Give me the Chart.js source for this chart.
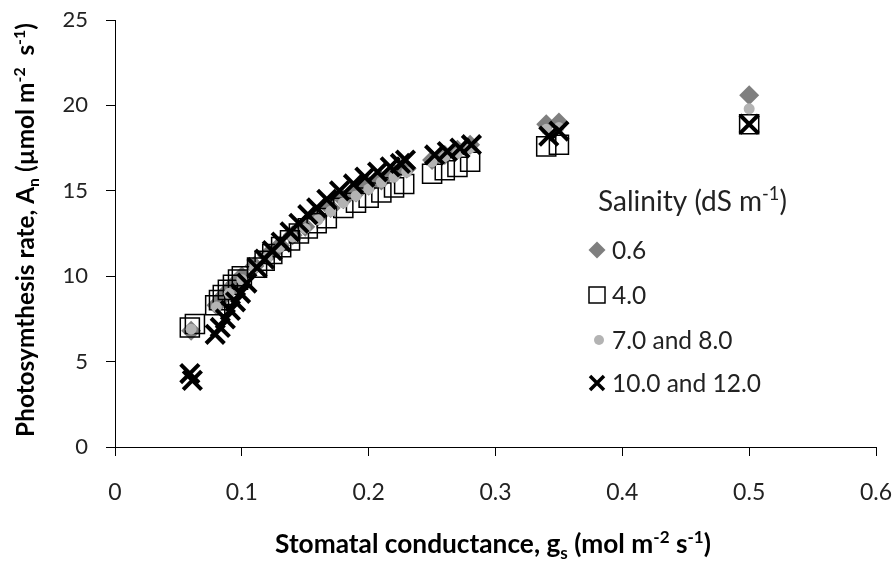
<!DOCTYPE html>
<html><head><meta charset="utf-8">
<script src="https://cdn.jsdelivr.net/npm/chart.js@4"></script>
<style>html,body{margin:0;padding:0;background:#fff}#wrap{width:895px;height:564px}</style>
</head><body><div id="wrap"><canvas id="c" width="895" height="564"></canvas></div>
<script>
const seriesLabels = ['0.6', '4.0', '7.0 and 8.0', '10.0 and 12.0'];
const xTickValues = [0, 0.1, 0.2, 0.3, 0.4, 0.5, 0.6];
const yTickValues = [0, 5, 10, 15, 20, 25];

// [gs, An] pairs
const sal06 = [[0.06,6.8],[0.08,8.3],[0.085,8.8],[0.09,9.2],[0.095,9.6],[0.1,10.0],[0.11,10.6],[0.12,11.2],[0.13,11.8],[0.14,12.4],[0.15,12.9],[0.16,13.5],[0.17,14.0],[0.18,14.5],[0.19,14.9],[0.2,15.3],[0.21,15.6],[0.22,16.0],[0.23,16.3],[0.25,16.8],[0.26,17.1],[0.27,17.4],[0.28,17.7],[0.34,18.9],[0.35,19.0],[0.5,20.6]];
const sal40 = [[0.059,7.0],[0.063,7.2],[0.079,8.3],[0.082,8.6],[0.085,8.9],[0.089,9.2],[0.093,9.5],[0.097,9.8],[0.1,10.0],[0.112,10.5],[0.118,10.9],[0.124,11.3],[0.131,11.7],[0.138,12.1],[0.145,12.5],[0.152,12.8],[0.159,13.1],[0.167,13.4],[0.18,14.0],[0.19,14.3],[0.2,14.6],[0.21,14.9],[0.22,15.2],[0.228,15.4],[0.25,16.0],[0.26,16.2],[0.27,16.4],[0.28,16.7],[0.34,17.6],[0.35,17.7],[0.5,18.9]];
const sal78 = [[0.06,6.9],[0.08,8.2],[0.09,9.0],[0.1,9.8],[0.11,10.5],[0.12,11.1],[0.13,11.7],[0.14,12.3],[0.15,12.8],[0.16,13.3],[0.17,13.8],[0.18,14.3],[0.19,14.7],[0.2,15.1],[0.21,15.5],[0.22,15.8],[0.23,16.1],[0.25,16.7],[0.26,17.0],[0.27,17.2],[0.28,17.5],[0.34,18.6],[0.35,18.7],[0.5,19.8]];
const sal1012 = [[0.059,4.3],[0.061,3.9],[0.079,6.6],[0.083,7.0],[0.087,7.5],[0.091,8.0],[0.095,8.5],[0.099,9.0],[0.104,9.6],[0.112,10.5],[0.118,11.0],[0.124,11.5],[0.131,12.0],[0.138,12.6],[0.145,13.1],[0.152,13.6],[0.159,14.0],[0.167,14.5],[0.177,15.0],[0.188,15.4],[0.197,15.8],[0.207,16.1],[0.217,16.4],[0.225,16.6],[0.229,16.8],[0.252,17.1],[0.262,17.3],[0.272,17.5],[0.281,17.7],[0.342,18.2],[0.35,18.5],[0.5,18.9]];

const toXY = arr => arr.map(p => ({x: p[0], y: p[1]}));
const FONT = 'Lato, "Open Sans", sans-serif';

function richWidth(ctx, segs, size, weight) {
  let total = 0;
  segs.forEach(s => {
    const fs = (s.sub || s.sup) ? size * 0.65 : size;
    ctx.font = weight + ' ' + fs + 'px ' + FONT;
    total += ctx.measureText(s.t).width;
  });
  return total;
}
// draws rich text; if target width given, font size is scaled to fit that width
function drawRich(ctx, segs, x, y, size, weight, color, align, target) {
  if (target) size = size * target / richWidth(ctx, segs, size, weight);
  const total = richWidth(ctx, segs, size, weight);
  let cx = align === 'left' ? x : x - total / 2;
  ctx.fillStyle = color;
  ctx.textBaseline = 'alphabetic';
  ctx.textAlign = 'left';
  segs.forEach(s => {
    const fs = (s.sub || s.sup) ? size * 0.65 : size;
    ctx.font = weight + ' ' + fs + 'px ' + FONT;
    let dy = 0;
    if (s.sub) dy = size * 0.22;
    if (s.sup) dy = -size * 0.38;
    ctx.fillText(s.t, cx, y + dy);
    cx += ctx.measureText(s.t).width;
  });
}

const overlay = {
  id: 'overlay',
  afterDraw(chart) {
    const ctx = chart.ctx;
    ctx.save();
    // x title
    drawRich(ctx, [{t:'Stomatal conductance, g'},{t:'s',sub:true},{t:' (mol m'},{t:'-2',sup:true},{t:' s'},{t:'-1',sup:true},{t:')'}], 493, 553, 20, 'bold', '#000', 'center', 436);
    // y title
    ctx.save();
    ctx.translate(34, 230);
    ctx.rotate(-Math.PI / 2);
    drawRich(ctx, [{t:'Photosymthesis rate, A'},{t:'n',sub:true},{t:' (µmol m'},{t:'-2',sup:true},{t:'  s'},{t:'-1',sup:true},{t:')'}], 0, 0, 20, 'bold', '#000', 'center', 414);
    ctx.restore();
    // legend
    drawRich(ctx, [{t:'Salinity (dS m'},{t:'-1',sup:true},{t:')'}], 598, 211, 24, 'normal', '#222', 'left', 189);
    const rows = [250, 295, 340, 383];
    const tx = 612;
    ctx.font = '24.5px ' + FONT;
    ctx.textBaseline = 'middle';
    ctx.textAlign = 'left';
    ctx.fillStyle = '#222';
    seriesLabels.forEach((lab, i) => ctx.fillText(lab, tx, rows[i] + 1));
    const mx = 597;
    // diamond
    ctx.fillStyle = '#7f7f7f';
    ctx.beginPath();
    ctx.moveTo(mx, rows[0] - 8.5); ctx.lineTo(mx + 8.5, rows[0]); ctx.lineTo(mx, rows[0] + 8.5); ctx.lineTo(mx - 8.5, rows[0]); ctx.closePath(); ctx.fill();
    // square
    ctx.strokeStyle = '#000'; ctx.lineWidth = 1.5;
    ctx.strokeRect(mx - 8, rows[1] - 8, 16, 16);
    // circle
    ctx.fillStyle = '#b3b3b3';
    ctx.beginPath(); ctx.arc(mx + 2, rows[2], 5, 0, Math.PI * 2); ctx.fill();
    // cross
    ctx.strokeStyle = '#000'; ctx.lineWidth = 3.5;
    ctx.beginPath();
    ctx.moveTo(mx - 7, rows[3] - 7); ctx.lineTo(mx + 7, rows[3] + 7);
    ctx.moveTo(mx + 7, rows[3] - 7); ctx.lineTo(mx - 7, rows[3] + 7);
    ctx.stroke();
    ctx.restore();
  }
};

new Chart(document.getElementById('c'), {
  type: 'scatter',
  data: {
    datasets: [
      {label: seriesLabels[0], data: toXY(sal06), pointStyle: 'rectRot', pointRadius: 10, backgroundColor: '#7f7f7f', borderColor: '#7f7f7f', borderWidth: 0, order: 4},
      {label: seriesLabels[1], data: toXY(sal40), pointStyle: 'rect', pointRadius: 13.5, backgroundColor: 'rgba(0,0,0,0)', borderColor: '#000', borderWidth: 1.5, order: 3},
      {label: seriesLabels[2], data: toXY(sal78), pointStyle: 'circle', pointRadius: 5.5, backgroundColor: '#b3b3b3', borderColor: '#b3b3b3', borderWidth: 0, order: 2},
      {label: seriesLabels[3], data: toXY(sal1012), pointStyle: 'crossRot', pointRadius: 13, backgroundColor: '#000', borderColor: '#000', borderWidth: 4, order: 1}
    ]
  },
  options: {
    responsive: false,
    devicePixelRatio: 1,
    animation: false,
    layout: {padding: {top: 20, right: 19, left: 0, bottom: 0}},
    plugins: {legend: {display: false}, tooltip: {enabled: false}},
    scales: {
      x: {
        type: 'linear', min: 0, max: 0.6,
        afterBuildTicks: s => { s.ticks = xTickValues.map(v => ({value: v})); },
        afterFit: s => { s.height = 117; s.paddingLeft = 0; s.paddingRight = 0; },
        ticks: {callback: v => v === 0 ? '0' : (+v).toFixed(1), font: {size: 23, family: FONT}, color: '#222', padding: 23, maxRotation: 0, autoSkip: false},
        grid: {drawOnChartArea: false, drawTicks: true, tickLength: 9, color: '#000', lineWidth: 1},
        border: {display: true, color: '#000', width: 1}
      },
      y: {
        type: 'linear', min: 0, max: 25,
        afterBuildTicks: s => { s.ticks = yTickValues.map(v => ({value: v})); },
        afterFit: s => { s.width = 115; s.paddingTop = 0; s.paddingBottom = 0; },
        ticks: {callback: v => String(v), font: {size: 22, family: FONT}, color: '#222', padding: 18},
        grid: {drawOnChartArea: false, drawTicks: true, tickLength: 9, color: '#000', lineWidth: 1},
        border: {display: true, color: '#000', width: 1}
      }
    }
  },
  plugins: [overlay]
});
</script>
</body></html>
